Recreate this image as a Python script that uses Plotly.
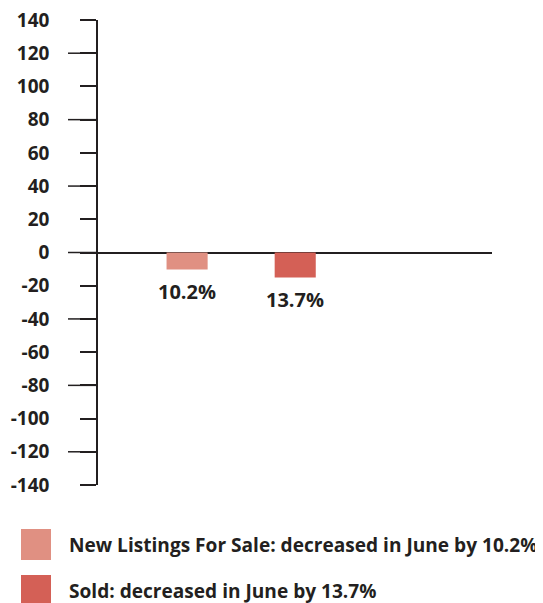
import plotly.graph_objects as go

categories = ["New Listings For Sale", "Sold"]
values = [-10.2, -15.0]
bar_labels = ["10.2%", "13.7%"]
bar_colors = ["#E09082", "#D46056"]
legend_texts = ["New Listings For Sale: decreased in June by 10.2%",
                "Sold: decreased in June by 13.7%"]
y_ticks = list(range(-140, 141, 20))
y_long_ticks = [-120, -80, -40, 0, 40, 80, 120]

FONT = "Open Sans"
INK = "#231F20"

# page has an 8px body margin; figure is sized so the page fits the window
OFF = 8
W, H = 543 - OFF, 603 - OFF
L, T = 98 - OFF, 20 - OFF
PW, PH = 394, 465
R, B = W - L - PW, H - T - PH

fig = go.Figure()
fig.add_trace(go.Bar(
    x=categories, y=values, marker=dict(color=bar_colors, line=dict(width=0)),
    width=0.38, showlegend=False, hoverinfo="skip",
))

for cat, val, lab in zip(categories, values, bar_labels):
    fig.add_annotation(x=cat, y=val, text=lab, showarrow=False,
                       yanchor="top", yshift=-7,
                       font=dict(family=FONT, size=20, color=INK, weight="bold"))

fig.update_layout(
    template="none",
    width=W, height=H,
    margin=dict(l=L, r=R, t=T, b=B),
    paper_bgcolor="white", plot_bgcolor="white",
    font=dict(family=FONT, color=INK),
    showlegend=False,
    xaxis=dict(type="category", range=[-0.824, 2.82], showticklabels=False,
               ticks="", showgrid=False, zeroline=False, showline=False,
               automargin=False),
    yaxis=dict(range=[-140, 140], tickvals=y_ticks, ticktext=[str(v) for v in y_ticks],
               ticks="outside", ticklen=16, tickwidth=1.5, tickcolor=INK,
               showline=True, linecolor=INK, linewidth=1.5,
               showgrid=False, zeroline=True, zerolinecolor=INK, zerolinewidth=1.5,
               tickfont=dict(family=FONT, size=19, color=INK, weight="bold"),
               ticklabelstandoff=27, ticklabeloverflow="allow", automargin=False),
)

# long tick marks every 40 units
for v in y_long_ticks:
    fig.add_shape(type="line", xref="paper", yref="y", x0=-30 / PW, x1=0, y0=v, y1=v,
                  line=dict(color=INK, width=1.5), layer="above")

def px2paper_x(px):
    return (px - OFF - L) / PW

def px2paper_y(py):
    return (T + PH - (py - OFF)) / PH

sq_tops = [529, 575]
for i, (txt, col) in enumerate(zip(legend_texts, bar_colors)):
    top = sq_tops[i]
    fig.add_shape(type="rect", xref="paper", yref="paper",
                  x0=px2paper_x(21), x1=px2paper_x(51),
                  y0=px2paper_y(top), y1=px2paper_y(top + 31),
                  fillcolor=col, line=dict(width=0))
    fig.add_annotation(xref="paper", yref="paper", x=px2paper_x(67),
                       y=px2paper_y(top + 16), xanchor="left", yanchor="middle",
                       text=txt, showarrow=False,
                       font=dict(family=FONT, size=19.1, color=INK, weight="bold"))

fig.write_html("out.html")
